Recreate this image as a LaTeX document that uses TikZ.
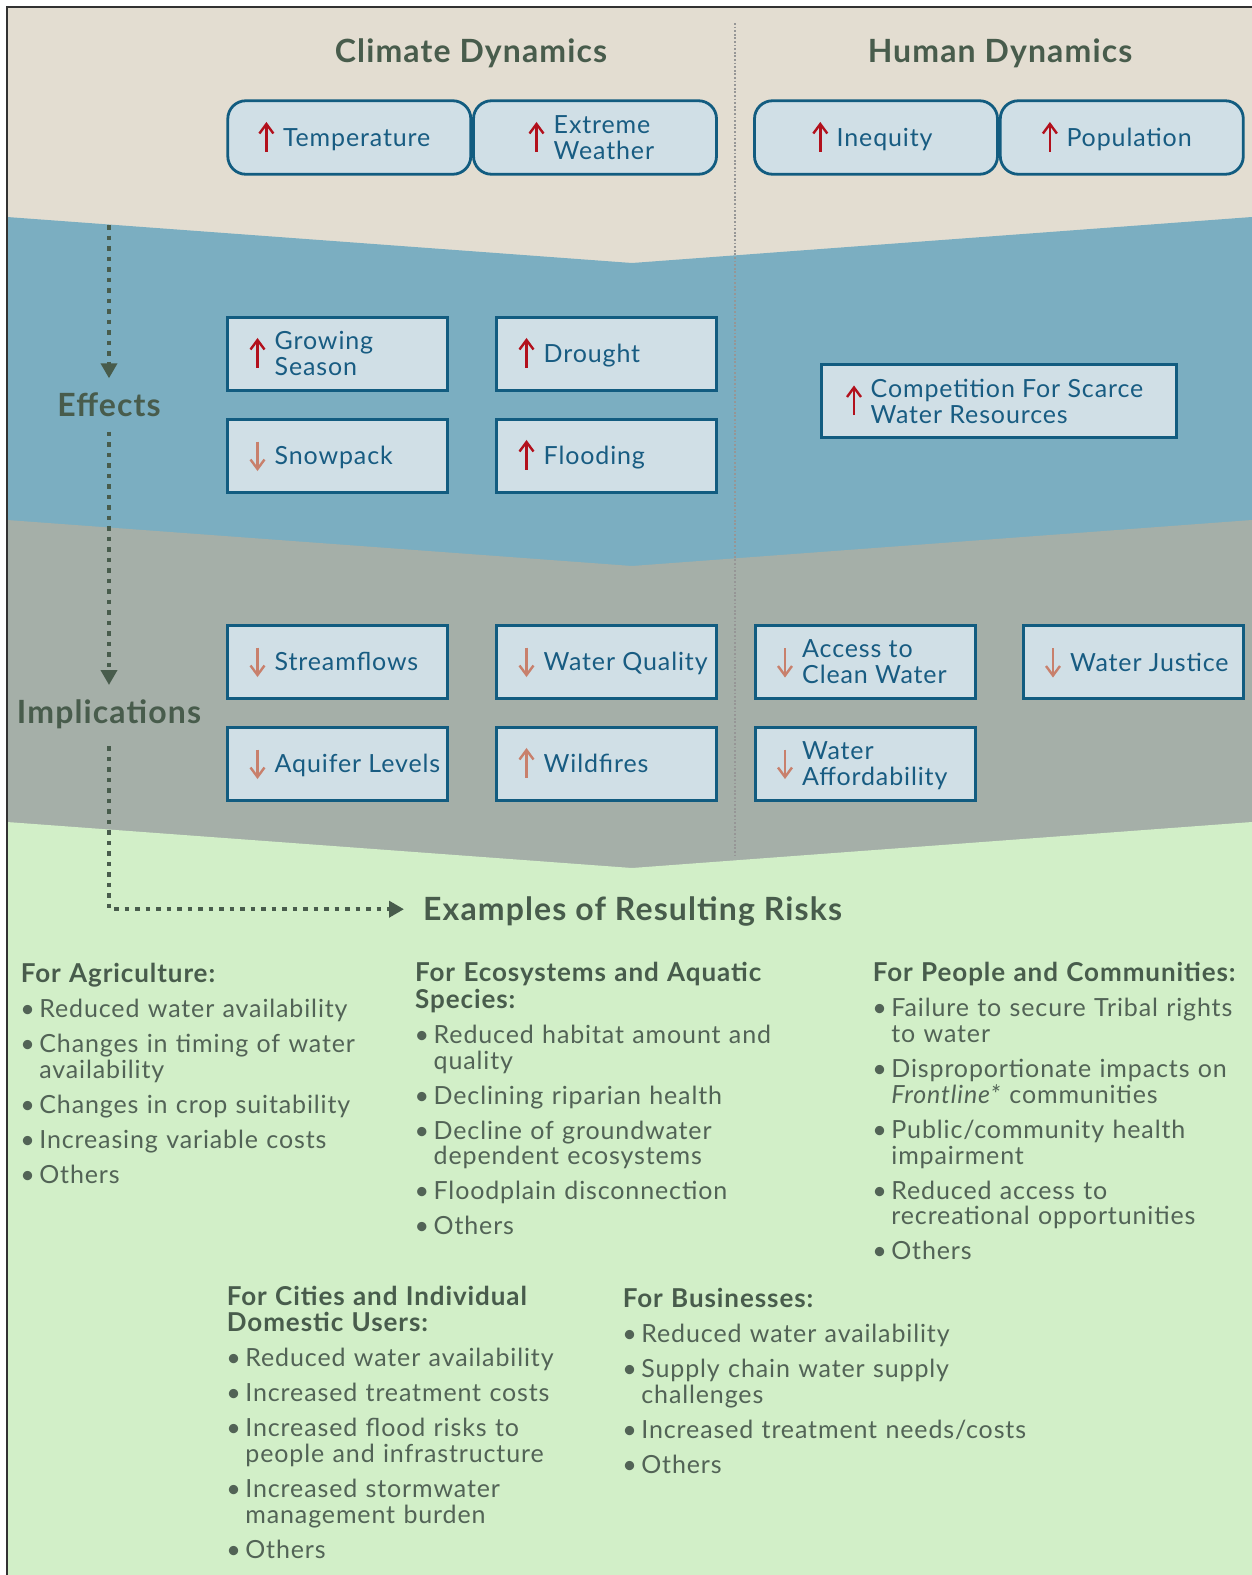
\documentclass[tikz,border=0pt]{standalone}
\usepackage{fontspec}
\setmainfont{Lato}[LetterSpace=3.5]
\usetikzlibrary{arrows.meta}

\definecolor{beige}{RGB}{227,221,209}
\definecolor{bandblue}{RGB}{123,174,193}
\definecolor{bandgray}{RGB}{165,175,168}
\definecolor{bandgreen}{RGB}{210,239,200}
\definecolor{boxfill}{RGB}{208,223,230}
\definecolor{boxline}{RGB}{18,92,128}
\definecolor{boxtext}{RGB}{24,92,130}
\definecolor{upred}{RGB}{178,16,28}
\definecolor{downsalmon}{RGB}{200,128,108}
\definecolor{headgreen}{RGB}{72,92,76}
\definecolor{itemgreen}{RGB}{82,99,86}
\definecolor{divider}{RGB}{150,150,150}
\definecolor{frameline}{RGB}{50,50,50}

\newlength\bulind
\setlength\bulind{18.5pt}
\newcommand{\brk}{\hfil\break}
\newcommand{\riskhead}[1]{{\fontsize{26}{26.6}\selectfont\bfseries\color{headgreen}#1\par}}
\newcommand{\riskitem}[1]{\hangindent=\bulind\hangafter=1\noindent\makebox[\bulind][l]{\hspace{-0.5pt}\textbullet}#1\par}

\begin{document}
\begin{tikzpicture}[x=1pt,y=-1pt,
  rbox/.style={draw=boxline,fill=boxfill,line width=2.8pt,rounded corners=18pt,
    minimum width=243pt,minimum height=73.5pt,inner sep=0pt,outer sep=0pt},
  sbox/.style={draw=boxline,fill=boxfill,line width=3pt,
    minimum width=220pt,minimum height=73pt,inner sep=0pt,outer sep=0pt},
  btxt/.style={text=boxtext,font=\fontsize{25}{26}\selectfont,align=left,
    inner sep=0pt,anchor=west},
  oneline/.style={text height=18pt,text depth=0pt},
  titletxt/.style={text=headgreen,font=\fontsize{32}{34}\selectfont\bfseries,anchor=base},
  stagetxt/.style={text=headgreen,font=\fontsize{32}{34}\selectfont\bfseries,
    text height=23pt,text depth=0pt,inner xsep=0pt,inner ysep=15pt},
  flow/.style={draw=headgreen,line width=4.5pt,dash pattern=on 4.5pt off 6pt,
    -{Triangle[length=15pt,width=16pt]}},
  risk/.style={anchor=base west,inner sep=0pt,text width=#1,align=left,
    font=\fontsize{25}{25.8}\selectfont,text=itemgreen},
  pics/uparrow/.style={code={
    \draw[line width=2.4pt] (0pt,-14pt) -- (0pt,12pt);
    \draw[line width=2.4pt,line join=miter] (-7pt,4pt) -- (0pt,13.5pt) -- (7pt,4pt);
  }},
  pics/downarrow/.style={code={
    \draw[line width=2.4pt] (0pt,14pt) -- (0pt,-12pt);
    \draw[line width=2.4pt,line join=miter] (-7pt,-4pt) -- (0pt,-13.5pt) -- (7pt,-4pt);
  }},
]
\useasboundingbox (0,0) rectangle (1252,1575);
\fill[white] (0,0) rectangle (1252,1575);

% background bands
\fill[beige] (7,7) rectangle (1252,1575);
\fill[bandblue] (7,217) -- (632,263) -- (1252,217) -- (1252,1575) -- (7,1575) -- cycle;
\fill[bandgray] (7,520) -- (632,566) -- (1252,520) -- (1252,1575) -- (7,1575) -- cycle;
\fill[bandgreen] (7,822) -- (632,868) -- (1252,822) -- (1252,1575) -- (7,1575) -- cycle;
\draw[frameline,line width=1.5pt] (7,1575) -- (7,7) -- (1252,7);

% column divider
\draw[divider,line width=1.8pt,dash pattern=on 1.8pt off 1.8pt] (735,23) -- (735,857);

% column titles
\node[titletxt] (clim) at (471,62.3) {Climate Dynamics};
\node[titletxt] (hum) at (1000,62.3) {Human Dynamics};

% drivers
\node[rbox] (temp) at (349.3,137.5) {};
\node[rbox] (ext) at (595,137.5) {};
\node[rbox] (ineq) at (876,137.5) {};
\node[rbox] (pop) at (1121.8,137.5) {};
\node[btxt,oneline] (temp-t) at ([xshift=55pt]temp.west) {Temperature};
\node[btxt] (ext-t) at ([xshift=80pt]ext.west) {Extreme\\Weather};
\node[btxt,oneline] (ineq-t) at ([xshift=82pt]ineq.west) {Inequity};
\node[btxt,oneline] (pop-t) at ([xshift=66pt]pop.west) {Population};
\pic[color=upred] at ([xshift=38.6pt]temp.west) {uparrow};
\pic[color=upred] at ([xshift=63pt]ext.west) {uparrow};
\pic[color=upred] at ([xshift=65.8pt]ineq.west) {uparrow};
\pic[color=upred] at ([xshift=49.6pt]pop.west) {uparrow};

% effects
\node[sbox] (gs) at (337.5,353.5) {};
\node[sbox] (dr) at (606.5,353.5) {};
\node[sbox] (sp) at (337.5,455.5) {};
\node[sbox] (fl) at (606.5,455.5) {};
\node[sbox,minimum width=355pt] (cw) at (999,401) {};
\node[btxt] (gs-t) at ([xshift=47pt]gs.west) {Growing\\Season};
\node[btxt,oneline] (dr-t) at ([xshift=47pt]dr.west) {Drought};
\node[btxt,oneline] (sp-t) at ([xshift=47pt]sp.west) {Snowpack};
\node[btxt,oneline] (fl-t) at ([xshift=47pt]fl.west) {Flooding};
\node[btxt] (cw-t) at ([xshift=49pt]cw.west) {Competition For Scarce\\Water Resources};
\pic[color=upred] at ([xshift=30pt]gs.west) {uparrow};
\pic[color=upred] at ([xshift=30pt]dr.west) {uparrow};
\pic[color=downsalmon] at ([xshift=30pt]sp.west) {downarrow};
\pic[color=upred] at ([xshift=30pt]fl.west) {uparrow};
\pic[color=upred] at ([xshift=32.5pt]cw.west) {uparrow};

% implications
\node[sbox] (sf) at (337.5,661.5) {};
\node[sbox] (wq) at (606.5,661.5) {};
\node[sbox] (aq) at (337.5,763.5) {};
\node[sbox] (wf) at (606.5,763.5) {};
\node[sbox] (ac) at (865,662) {};
\node[sbox] (wj) at (1133,662) {};
\node[sbox] (wa) at (865,763.5) {};
\node[btxt,oneline] (sf-t) at ([xshift=47pt]sf.west) {Streamflows};
\node[btxt,oneline] (wq-t) at ([xshift=47pt]wq.west) {Water Quality};
\node[btxt,oneline] (aq-t) at ([xshift=47pt]aq.west) {Aquifer Levels};
\node[btxt,oneline] (wf-t) at ([xshift=47pt]wf.west) {Wildfires};
\node[btxt] (ac-t) at ([xshift=47pt]ac.west) {Access to\\Clean Water};
\node[btxt,oneline] (wj-t) at ([xshift=47pt]wj.west) {Water Justice};
\node[btxt] (wa-t) at ([xshift=47pt]wa.west) {Water\\\raisebox{0pt}[\height][0pt]{Affordability}};
\pic[color=downsalmon] at ([xshift=30pt]sf.west) {downarrow};
\pic[color=downsalmon] at ([xshift=30pt]wq.west) {downarrow};
\pic[color=downsalmon] at ([xshift=30pt]aq.west) {downarrow};
\pic[color=downsalmon] at ([xshift=30pt]wf.west) {uparrow};
\pic[color=downsalmon] at ([xshift=30pt]ac.west) {downarrow};
\pic[color=downsalmon] at ([xshift=30pt]wj.west) {downarrow};
\pic[color=downsalmon] at ([xshift=30pt]wa.west) {downarrow};

% stage flow on the left
\coordinate (flowtop) at (109,225);
\node[stagetxt] (eff) at (109,405) {Effects};
\node[stagetxt] (imp) at (109,711.7) {Implications};
\node[titletxt,anchor=base west,inner xsep=19pt,text height=23pt,text depth=0pt]
  (ex) at (404,920.7) {Examples of Resulting Risks};
\draw[flow] (flowtop) -- (eff.north);
\draw[flow] (eff.south) -- (imp.north);
\draw[flow] ([yshift=-8pt]imp.south) |- (ex.west);

% examples of resulting risks
\node[risk=390pt] (agr) at (20.7,982.7) {\setlength\parskip{9.2pt}%
  \riskhead{For Agriculture:}%
  \riskitem{Reduced water availability}%
  \riskitem{Changes in timing of water\brk availability}%
  \riskitem{Changes in crop suitability}%
  \riskitem{Increasing variable costs}%
  \riskitem{Others}};
\node[risk=420pt] (eco) at (415,981.7) {\setlength\parskip{9.2pt}%
  \riskhead{For Ecosystems and Aquatic\\Species:}%
  \riskitem{Reduced habitat amount and\brk quality}%
  \riskitem{Declining riparian health}%
  \riskitem{Decline of groundwater\brk dependent ecosystems}%
  \riskitem{Floodplain disconnection}%
  \riskitem{Others}};
\node[risk=420pt] (ppl) at (872.7,981.7) {\setlength\parskip{9.2pt}%
  \riskhead{For People and Communities:}%
  \riskitem{Failure to secure Tribal rights\brk to water}%
  \riskitem{Disproportionate impacts on\brk \textit{Frontline*} communities}%
  \riskitem{Public/community health\brk impairment}%
  \riskitem{Reduced access to\brk recreational opportunities}%
  \riskitem{Others}};
\node[risk=390pt] (cit) at (226.7,1305) {\setlength\parskip{9.2pt}%
  \riskhead{For Cities and Individual\\Domestic Users:}%
  \riskitem{Reduced water availability}%
  \riskitem{Increased treatment costs}%
  \riskitem{Increased flood risks to\brk people and infrastructure}%
  \riskitem{Increased stormwater\brk management burden}%
  \riskitem{Others}};
\node[risk=420pt] (bus) at (622.7,1307.3) {\setlength\parskip{9.2pt}%
  \riskhead{For Businesses:}%
  \riskitem{Reduced water availability}%
  \riskitem{Supply chain water supply\brk challenges}%
  \riskitem{Increased treatment needs/costs}%
  \riskitem{Others}};
\end{tikzpicture}
\end{document}
